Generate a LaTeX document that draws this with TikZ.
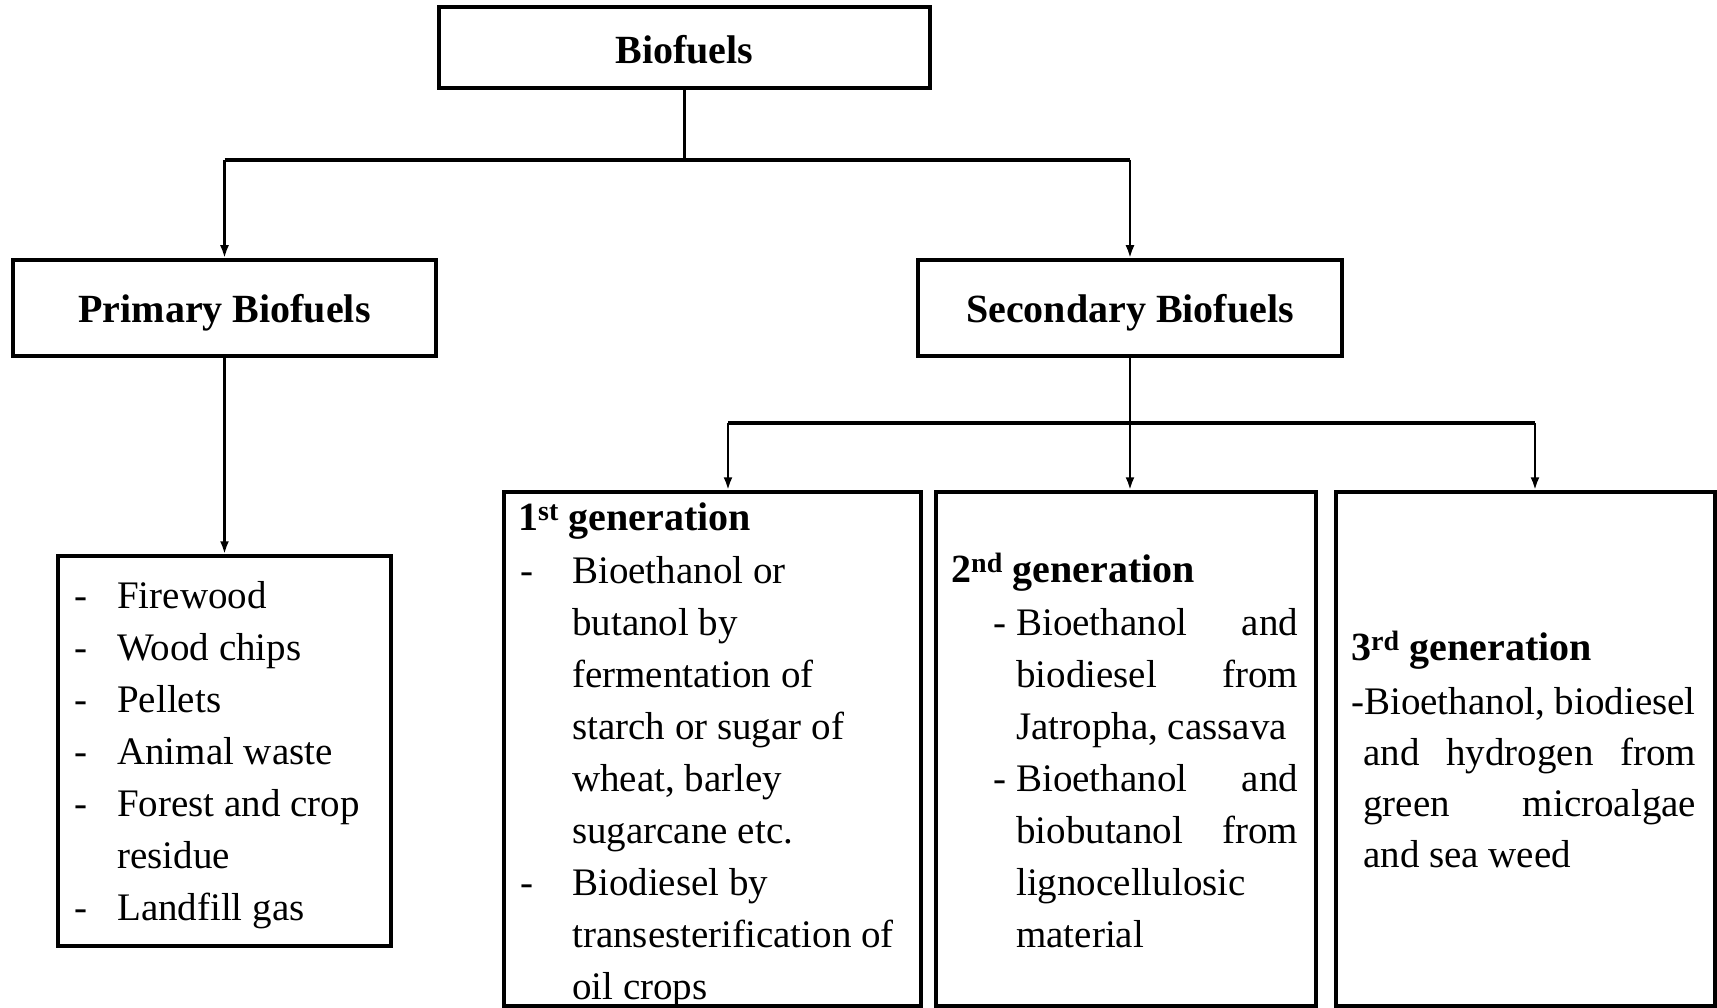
\documentclass[tikz,border=0pt]{standalone}
\usepackage{fontspec}
\setmainfont{Liberation Serif}
\usetikzlibrary{arrows.meta}
\newcommand{\hdf}{\normalfont\bfseries\fontsize{40}{52}\selectfont}
\newcommand{\bdf}{\normalfont\fontsize{39}{52}\selectfont}
\begin{document}
\begin{tikzpicture}[x=1pt,y=-1pt,
  box/.style={draw, line width=3.5pt, inner sep=0pt},
  conn/.style={line width=2.6pt},
  hconn/.style={line width=3.6pt},
  arr/.style={conn, -{Latex[length=13pt,width=9pt]}},
  txt/.style={inner sep=0pt, anchor=base west}]
\useasboundingbox (0,0) rectangle (1717,1008);
\fill[white] (0,0) rectangle (1717,1008);

% boxes
\node[box, minimum width=491pt, minimum height=81pt] (bio) at (684.5,47.5) {\hdf\rule{0pt}{32pt}Biofuels};
\node[box, minimum width=423pt, minimum height=96pt] (prim) at (224.5,308) {\hdf\rule{0pt}{38pt}Primary Biofuels};
\node[box, minimum width=424pt, minimum height=96pt] (sec) at (1130,308) {\hdf\rule{0pt}{38pt}Secondary Biofuels};
\node[box, minimum width=333pt, minimum height=390pt] (list) at (224.5,751) {};
\node[box, minimum width=417pt, minimum height=514pt] (g1) at (712.5,749) {};
\node[box, minimum width=380pt, minimum height=514pt] (g2) at (1126,749) {};
\node[box, minimum width=379pt, minimum height=514pt] (g3) at (1525.5,749) {};

% connectors
\coordinate (j1) at (684.5,160);
\coordinate (jl) at (prim |- j1);
\coordinate (jr) at (sec |- j1);
\coordinate (j2) at (1130,423);
\coordinate (f1) at (728,423);
\coordinate (f3) at (1535,423);
\draw[conn] (bio) -- (j1);
\draw[hconn] (jl) -- (jr);
\draw[arr] (jl) -- (prim);
\draw[arr] (jr) -- (sec);
\draw[arr] (prim) -- (list);
\draw[conn] (sec) -- (j2);
\draw[hconn] (f1) -- (f3);
\draw[arr] (f1) -- (f1 |- g1.north);
\draw[arr] (j2) -- (j2 |- g2.north);
\draw[arr] (f3) -- (f3 |- g3.north);

% texts
\node[txt] (listtxt) at (74,608) {\parbox[t]{320pt}{\bdf
\makebox[43pt][l]{-}Firewood\\
\makebox[43pt][l]{-}Wood chips\\
\makebox[43pt][l]{-}Pellets\\
\makebox[43pt][l]{-}Animal waste\\
\makebox[43pt][l]{-}Forest and crop\\
\hspace*{43pt}residue\\
\makebox[43pt][l]{-}Landfill gas}};

\node[txt] (g1txt) at (518,530) {\parbox[t]{400pt}{\bdf
{\hdf 1\textsuperscript{st} generation}\\[1pt]
\makebox[54pt][l]{\hspace{2pt}-}Bioethanol or\\
\hspace*{54pt}butanol by\\
\hspace*{54pt}fermentation of\\
\hspace*{54pt}starch or sugar of\\
\hspace*{54pt}wheat, barley\\
\hspace*{54pt}sugarcane etc.\\
\makebox[54pt][l]{\hspace{2pt}-}Biodiesel by\\
\hspace*{54pt}transesterification of\\
\hspace*{54pt}oil crops}};

\node[txt] (g2txt) at (951,582) {\parbox[t]{360pt}{\bdf
{\hdf 2\textsuperscript{nd} generation}\\[1pt]
\hspace*{42pt}\makebox[23pt][l]{-}\makebox[282pt][s]{Bioethanol and}\\
\hspace*{65pt}\makebox[282pt][s]{biodiesel from}\\
\hspace*{65pt}Jatropha, cassava\\
\hspace*{42pt}\makebox[23pt][l]{-}\makebox[282pt][s]{Bioethanol and}\\
\hspace*{65pt}\makebox[282pt][s]{biobutanol from}\\
\hspace*{65pt}lignocellulosic\\
\hspace*{65pt}material}};

\node[txt] (g3txt) at (1351,660) {\parbox[t]{365pt}{\bdf
{\hdf 3\textsuperscript{rd} generation}\\[2pt]
-Bioethanol, biodiesel\\[-1pt]
\hspace*{12pt}\makebox[333pt][s]{and hydrogen from}\\[-1pt]
\hspace*{12pt}\makebox[333pt][s]{green microalgae}\\[-1pt]
\hspace*{12pt}and sea weed}};
\end{tikzpicture}
\end{document}
